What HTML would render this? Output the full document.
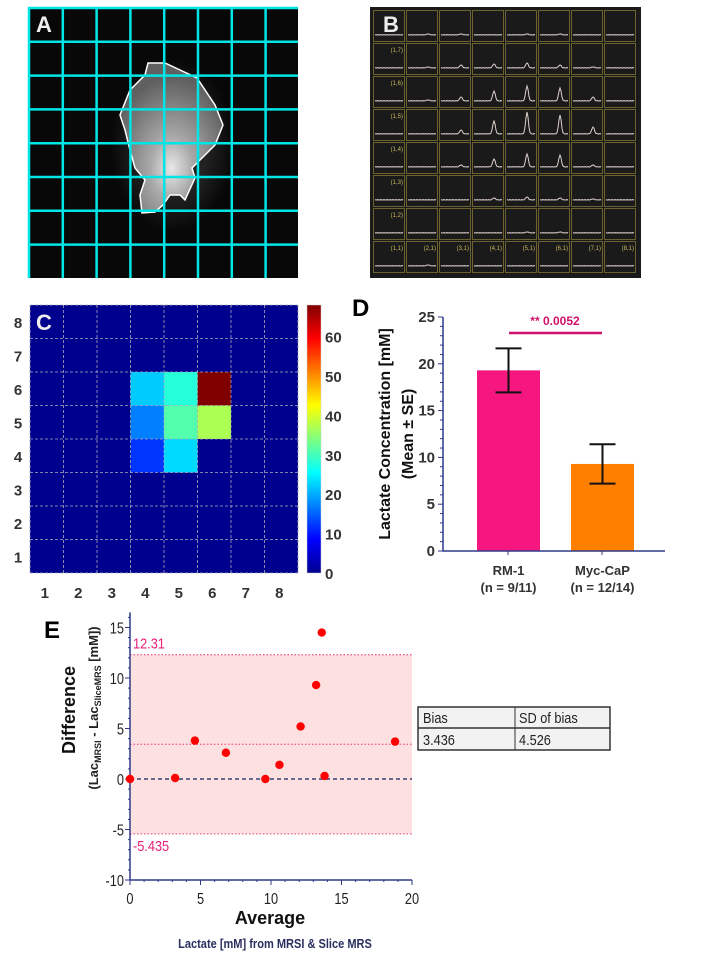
<!DOCTYPE html>
<html><head><meta charset="utf-8"><style>
html,body{margin:0;padding:0;background:#fff;}
svg{display:block;font-family:"Liberation Sans",Arial,sans-serif;}
</style></head><body>
<svg id="fig" width="720" height="960" viewBox="0 0 720 960">
<defs>
<radialGradient id="tumorGrad" cx="0.5" cy="0.7" r="0.6">
<stop offset="0" stop-color="#e8e8e8"/><stop offset="0.35" stop-color="#a8a8a8"/><stop offset="1" stop-color="#606060"/>
</radialGradient>
<radialGradient id="haloGrad" cx="0.5" cy="0.5" r="0.5">
<stop offset="0.6" stop-color="#333"/><stop offset="1" stop-color="#0a0a0a"/>
</radialGradient>
<linearGradient id="jetGrad" x1="0" y1="1" x2="0" y2="0">
<stop offset="0" stop-color="#00008f"/><stop offset="0.125" stop-color="#0000ff"/><stop offset="0.375" stop-color="#00ffff"/><stop offset="0.625" stop-color="#ffff00"/><stop offset="0.875" stop-color="#ff0000"/><stop offset="1" stop-color="#800000"/>
</linearGradient>
</defs>

<g>
<rect x="28" y="7" width="270" height="271" fill="#080808"/>
<ellipse cx="172" cy="145" rx="60" ry="85" fill="url(#haloGrad)" opacity="0.6"/>
<path d="M148,63 L165,63 L197,78 L215,105 L223,125 L215,145 L200,160 L192,168 L195,178 L185,200 L180,195 L170,195 L163,205 L155,212 L142,213 L140,195 L145,180 L135,168 L130,150 L125,130 L120,115 L130,90 L145,75 Z" fill="url(#tumorGrad)" stroke="#fff" stroke-width="1.5"/>
<g id="gridA" stroke="#00e5e5" stroke-width="2.5"></g>
<text x="36" y="32" font-size="22" font-weight="bold" fill="#eee">A</text>
</g>

<g>
<rect x="370" y="7" width="271" height="271" fill="#1a1a1a"/>
<g id="spectra"></g>
<text x="383" y="32" font-size="22" font-weight="bold" fill="#eee">B</text>
</g>

<g id="panelC"></g>

<g id="panelD">
<text x="352" y="316" font-size="24" font-weight="bold" fill="#000">D</text>
</g>

<g id="panelE">
<text x="44" y="638" font-size="24" font-weight="bold" fill="#000">E</text>
</g>
</svg>
<script>
const NS='http://www.w3.org/2000/svg';
function mk(tag,attrs,parent,text){const e=document.createElementNS(NS,tag);for(const k in attrs)e.setAttribute(k,attrs[k]);if(text!==undefined)e.textContent=text;parent.appendChild(e);return e;}

const heatCols=[1,2,3,4,5,6,7,8];
const heatRows=[1,2,3,4,5,6,7,8];
const heatCells=[[4,6,22],[5,6,28],[6,6,68],[4,5,17],[5,5,31],[6,5,37],[4,4,12],[5,4,23]];
const cbarTicks=[0,10,20,30,40,50,60];
const barGroups=['RM-1','Myc-CaP'];
const barN=['(n = 9/11)','(n = 12/14)'];
const barMeans=[19.3,9.3];
const barSE=[2.35,2.1];
const dTicks=[0,5,10,15,20,25];
const eAvg=[0,3.2,4.6,6.8,9.6,10.6,12.1,13.2,13.6,13.8,18.8];
const eDiff=[0,0.1,3.8,2.6,0,1.4,5.2,9.3,14.5,0.3,3.7];
const eBias=[3.436];
const eSD=[4.526];
const eUpper=[12.31];
const eLower=[-5.435];
const eXTicks=[0,5,10,15,20];
const eYTicks=[-10,-5,0,5,10,15];
const peakRows=[
[0,1,1,0,1,1,0,0],
[0,1,3,4,5,3,1,0],
[0,1,4,10,15,13,4,0],
[0,0,4,13,22,19,7,0],
[0,0,2,8,13,12,2,0],
[0,0,0,2,3,2,1,0],
[0,0,0,0,1,1,0,0],
[0,1,0,0,0,0,0,0]];

const gA=document.getElementById('gridA');
for(let i=0;i<8;i++){
  const v=29+i*33.8;
  const l1=mk('line',{x1:v,y1:7,x2:v,y2:278},gA);
  
  
  const h=8+i*33.8;
  const l2=mk('line',{x1:28,y1:h,x2:298,y2:h},gA);
  
  
}

const gB=document.getElementById('spectra');
const cw=33, ch=33, bx=373, by=10;
peakRows.forEach((row,ri)=>{
  row.forEach((amp,ci)=>{
    const x=bx+ci*cw, y=by+ri*ch;
    const cell=mk('rect',{x:x+0.5,y:y+0.5,width:cw-2,height:ch-2,fill:'#1a1a1a',stroke:'#6b6230','stroke-width':1},gB);
    
    
    const base=y+ch-8;
    let d='';
    for(let k=0;k<=28;k++){
      const px=x+2+k;
      const dx=(k-20)/1.3;
      const py=base-amp*Math.exp(-dx*dx/2)-(k%3===0?0.4:0);
      d+=(k?'L':'M')+px.toFixed(1)+','+py.toFixed(1);
    }
    const sp=mk('path',{d:d,fill:'none',stroke:'#ddd0cc','stroke-width':1},gB);
    
    
    let lab=null;
    if(ci===0 && ri>0) lab='(1,'+(8-ri)+')';
    if(ri===7 && ci>0) lab='('+(ci+1)+',1)';
    if(lab){const t=mk('text',{x:x+cw-3,y:y+9,'font-size':6,fill:'#c8b860','text-anchor':'end'},gB,lab);
      }
  });
});

const gC=document.getElementById('panelC');
const cx0=30, cy0=305, cs=33.5, cN=8;
const xC=c=>cx0+(c-1)*cs;
const yC=r=>cy0+(cN-r)*cs;
const vmax=68;
function jet(v){const t=Math.max(0,Math.min(1,v/vmax));const cl=a=>Math.round(255*Math.max(0,Math.min(1,a)));
  return 'rgb('+cl(1.5-Math.abs(4*t-3))+','+cl(1.5-Math.abs(4*t-2))+','+cl(1.5-Math.abs(4*t-1))+')';}
const bg=mk('rect',{x:cx0,y:cy0,width:cs*cN,height:cs*cN,fill:'#00008f'},gC);

heatCells.forEach(c=>{
  const r=mk('rect',{x:xC(c[0]),y:yC(c[1]),width:cs,height:cs,fill:jet(c[2])},gC);
  
});
for(let i=0;i<=cN;i++){
  const l=mk('line',{x1:cx0+i*cs,y1:cy0,x2:cx0+i*cs,y2:cy0+cs*cN,stroke:'#aab','stroke-width':0.8,'stroke-dasharray':'3,2'},gC);
  
  const l2=mk('line',{x1:cx0,y1:cy0+i*cs,x2:cx0+cs*cN,y2:cy0+i*cs,stroke:'#aab','stroke-width':0.8,'stroke-dasharray':'3,2'},gC);
  
}
const lc=mk('text',{x:36,y:330,'font-size':22,'font-weight':'bold',fill:'#eee'},gC,'C');


heatCols.forEach(c=>{const t=mk('text',{x:xC(c)+cs/2-2,y:598,'font-size':15,'font-weight':'bold',fill:'#333','text-anchor':'middle'},gC,c);
  });
heatRows.forEach(r=>{const t=mk('text',{x:18,y:yC(r)+cs/2+6,'font-size':15,'font-weight':'bold',fill:'#333','text-anchor':'middle'},gC,r);
  });
const cb=mk('rect',{x:307,y:305,width:14,height:268,fill:'url(#jetGrad)',stroke:'#ccc','stroke-width':0.5},gC);

const yCb=v=>573-v*(268/vmax);
cbarTicks.forEach(v=>{const t=mk('text',{x:325,y:yCb(v)+6,'font-size':15,'font-weight':'bold',fill:'#333'},gC,v);
  });

const gD=document.getElementById('panelD');
const dx0=443, dy0=551, dH=234, dX1=665;
const yD=v=>dy0-v*dH/25;
const barX=[477,571], barW=63;
const navy='#2e3a87';
barMeans.forEach((m,i)=>{
  const col=i===0?'#f5167f':'#ff8000';
  const b=mk('rect',{x:barX[i],y:yD(m),width:barW,height:dy0-yD(m),fill:col},gD);
  
  const cxm=barX[i]+barW/2;
  const e=mk('path',{d:`M${cxm},${yD(m+barSE[i])}V${yD(m-barSE[i])}M${cxm-13},${yD(m+barSE[i])}h26M${cxm-13},${yD(m-barSE[i])}h26`,stroke:'#111','stroke-width':2,fill:'none'},gD);
  
  const t1=mk('text',{x:cxm,y:575,'font-size':13,'font-weight':'bold',fill:'#333','text-anchor':'middle'},gD,barGroups[i]);
  
  const t2=mk('text',{x:cxm,y:592,'font-size':13,'font-weight':'bold',fill:'#333','text-anchor':'middle'},gD,barN[i]);
  
});
const ax=mk('path',{d:`M${dx0},${yD(25)}V${dy0}H${dX1}`,stroke:navy,'stroke-width':1.5,fill:'none'},gD);

for(let v=0;v<=25;v++){const big=v%5===0;
  const tk=mk('line',{x1:dx0-(big?5:3),y1:yD(v),x2:dx0,y2:yD(v),stroke:navy,'stroke-width':1},gD);
  }
dTicks.forEach(v=>{const t=mk('text',{x:dx0-8,y:yD(v)+5,'font-size':15,'font-weight':'bold',fill:'#333','text-anchor':'end'},gD,v);
  });
[508,602].forEach(x=>{const tk=mk('line',{x1:x,y1:dy0,x2:x,y2:dy0+4,stroke:navy},gD);});
const br=mk('line',{x1:509,y1:333,x2:602,y2:333,stroke:'#d0106a','stroke-width':2.5},gD);

const st=mk('text',{x:555,y:325,'font-size':12,'font-weight':'bold',fill:'#d0106a','text-anchor':'middle'},gD,'** 0.0052');

const yl1=mk('text',{x:0,y:0,transform:'translate(390,434) rotate(-90)','font-size':16,'font-weight':'bold',fill:'#111','text-anchor':'middle'},gD,'Lactate Concentration [mM]');

const yl2=mk('text',{x:0,y:0,transform:'translate(413,434) rotate(-90)','font-size':16,'font-weight':'bold',fill:'#111','text-anchor':'middle'},gD,'(Mean \u00b1 SE)');


const gE=document.getElementById('panelE');
const ex0=130, exS=14.1, ey0=779, eyS=10.1;
const xE=v=>ex0+v*exS;
const yE=v=>ey0-v*eyS;
const band=mk('rect',{x:xE(0),y:yE(eUpper[0]),width:xE(20)-xE(0),height:yE(eLower[0])-yE(eUpper[0]),fill:'#fde0e0'},gE);

[eUpper[0],eBias[0],eLower[0]].forEach(v=>{const l=mk('line',{x1:xE(0),y1:yE(v),x2:xE(20),y2:yE(v),stroke:'#f06090','stroke-width':1.3,'stroke-dasharray':'1.5,2'},gE);
  });
const zl=mk('line',{x1:xE(0),y1:yE(0),x2:xE(20),y2:yE(0),stroke:'#3a3f7a','stroke-width':1.5,'stroke-dasharray':'4,3'},gE);

const eax=mk('path',{d:`M${xE(0)},${yE(16.5)}V${yE(-10)}H${xE(20)}`,stroke:navy,'stroke-width':1.5,fill:'none'},gE);

for(let v=-10;v<=16;v++){const big=v%5===0;
  const tk=mk('line',{x1:xE(0)-(big?5:2),y1:yE(v),x2:xE(0),y2:yE(v),stroke:navy},gE);
  }
for(let v=0;v<=20;v++){const big=v%5===0;
  const tk=mk('line',{x1:xE(v),y1:yE(-10),x2:xE(v),y2:yE(-10)+(big?5:2),stroke:navy},gE);
  }
eYTicks.forEach(v=>{const t=mk('text',{x:xE(0)-6,y:yE(v)+6,'font-size':16,fill:'#222','text-anchor':'end',transform:`translate(${xE(0)-6},0) scale(0.8,1) translate(${-(xE(0)-6)},0)`},gE,v);
  });
eXTicks.forEach(v=>{const t=mk('text',{x:xE(v),y:yE(-10)+24,'font-size':16,fill:'#222','text-anchor':'middle',transform:`translate(${xE(v)},0) scale(0.8,1) translate(${-xE(v)},0)`},gE,v);
  });
const ul=mk('text',{x:133,y:yE(eUpper[0])-6,'font-size':15,fill:'#e8207a',transform:'translate(133,0) scale(0.85,1) translate(-133,0)'},gE,eUpper[0]);

const ll=mk('text',{x:133,y:yE(eLower[0])+17,'font-size':15,fill:'#e8207a',transform:'translate(133,0) scale(0.85,1) translate(-133,0)'},gE,eLower[0]);

eAvg.forEach((a,i)=>{const c=mk('circle',{cx:xE(a),cy:yE(eDiff[i]),r:4.2,fill:'#f00'},gE);
  });
const tb=mk('g',{},gE);
mk('rect',{x:418,y:707,width:192,height:43,fill:'#f2f2f2',stroke:'#333','stroke-width':1.5},tb);
mk('line',{x1:418,y1:728,x2:610,y2:728,stroke:'#333','stroke-width':1.5},tb);
mk('line',{x1:515,y1:707,x2:515,y2:750,stroke:'#333','stroke-width':1},tb);
[['Bias',423,723],['SD of bias',519,723],[eBias[0],423,745],[eSD[0],519,745]].forEach(s=>{
  const t=mk('text',{x:s[1],y:s[2],'font-size':15,fill:'#222',transform:`translate(${s[1]},0) scale(0.85,1) translate(${-s[1]},0)`},tb,s[0]);
  });
const av=mk('text',{x:270,y:924,'font-size':18,'font-weight':'bold',fill:'#111','text-anchor':'middle'},gE,'Average');

const sub=mk('text',{x:275,y:948,'font-size':13,'font-weight':'bold',fill:'#2a2f60','text-anchor':'middle',transform:'translate(275,0) scale(0.85,1) translate(-275,0)'},gE,'Lactate [mM] from MRSI & Slice MRS');

const yt=mk('text',{x:0,y:0,transform:'translate(75,710) rotate(-90)','font-size':18,'font-weight':'bold',fill:'#111','text-anchor':'middle'},gE,'Difference');

const ys=mk('text',{x:0,y:0,transform:'translate(98,708) rotate(-90)','font-size':13,'font-weight':'bold',fill:'#222','text-anchor':'middle'},gE);

ys.innerHTML='(Lac<tspan font-size="9" dy="3">MRSI</tspan><tspan dy="-3"> - Lac</tspan><tspan font-size="9" dy="3">SliceMRS</tspan><tspan dy="-3"> [mM])</tspan>';
</script>
</body></html>
